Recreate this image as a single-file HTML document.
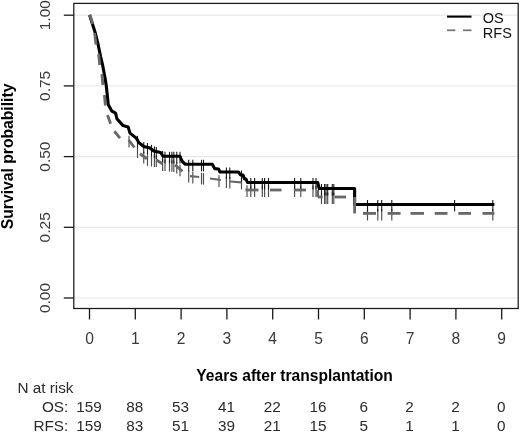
<!DOCTYPE html>
<html><head><meta charset="utf-8"><title>Survival</title>
<style>html,body{margin:0;padding:0;background:#fff;overflow:hidden}body{width:520px;height:432px;position:relative}svg text{font-family:"Liberation Sans",sans-serif}</style></head>
<body>
<svg width="520" height="432" viewBox="0 0 520 432" style="position:absolute;left:0;top:0;display:block;will-change:transform">
<rect width="520" height="432" fill="#fff"/>
<line x1="73.8" x2="518.2" y1="15.2" y2="15.2" stroke="#e5e5e5" stroke-width="1"/>
<line x1="73.8" x2="518.2" y1="85.9" y2="85.9" stroke="#e5e5e5" stroke-width="1"/>
<line x1="73.8" x2="518.2" y1="156.6" y2="156.6" stroke="#e5e5e5" stroke-width="1"/>
<line x1="73.8" x2="518.2" y1="227.3" y2="227.3" stroke="#e5e5e5" stroke-width="1"/>
<line x1="73.8" x2="518.2" y1="298.0" y2="298.0" stroke="#e5e5e5" stroke-width="1"/>
<line x1="137.5" x2="137.5" y1="146.5" y2="158.1" stroke="#4c4c4c" stroke-width="1.15"/>
<line x1="143.75" x2="143.75" y1="152.0" y2="163.6" stroke="#4c4c4c" stroke-width="1.15"/>
<line x1="147.5" x2="147.5" y1="154.3" y2="165.9" stroke="#4c4c4c" stroke-width="1.15"/>
<line x1="151.5" x2="151.5" y1="154.9" y2="166.5" stroke="#4c4c4c" stroke-width="1.15"/>
<line x1="154.4" x2="154.4" y1="155.3" y2="166.9" stroke="#4c4c4c" stroke-width="1.15"/>
<line x1="156.3" x2="156.3" y1="155.5" y2="167.1" stroke="#4c4c4c" stroke-width="1.15"/>
<line x1="162.6" x2="162.6" y1="159.3" y2="170.9" stroke="#4c4c4c" stroke-width="1.15"/>
<line x1="165" x2="165" y1="159.5" y2="171.1" stroke="#4c4c4c" stroke-width="1.15"/>
<line x1="169.5" x2="169.5" y1="159.9" y2="171.6" stroke="#4c4c4c" stroke-width="1.15"/>
<line x1="171.9" x2="171.9" y1="160.2" y2="171.8" stroke="#4c4c4c" stroke-width="1.15"/>
<line x1="173.8" x2="173.8" y1="160.4" y2="172.0" stroke="#4c4c4c" stroke-width="1.15"/>
<line x1="176.75" x2="176.75" y1="162.0" y2="173.6" stroke="#4c4c4c" stroke-width="1.15"/>
<line x1="180" x2="180" y1="164.7" y2="176.3" stroke="#4c4c4c" stroke-width="1.15"/>
<line x1="188.7" x2="188.7" y1="170.8" y2="182.4" stroke="#4c4c4c" stroke-width="1.15"/>
<line x1="192.8" x2="192.8" y1="171.9" y2="183.5" stroke="#4c4c4c" stroke-width="1.15"/>
<line x1="201.5" x2="201.5" y1="172.8" y2="184.4" stroke="#4c4c4c" stroke-width="1.15"/>
<line x1="203.5" x2="203.5" y1="173.1" y2="184.7" stroke="#4c4c4c" stroke-width="1.15"/>
<line x1="226.4" x2="226.4" y1="176.4" y2="188.0" stroke="#4c4c4c" stroke-width="1.15"/>
<line x1="229.8" x2="229.8" y1="177.0" y2="188.6" stroke="#4c4c4c" stroke-width="1.15"/>
<line x1="241.5" x2="241.5" y1="177.8" y2="189.4" stroke="#4c4c4c" stroke-width="1.15"/>
<line x1="250.8" x2="250.8" y1="185.3" y2="196.9" stroke="#4c4c4c" stroke-width="1.15"/>
<line x1="254.6" x2="254.6" y1="185.3" y2="196.9" stroke="#4c4c4c" stroke-width="1.15"/>
<line x1="262.3" x2="262.3" y1="185.3" y2="196.9" stroke="#4c4c4c" stroke-width="1.15"/>
<line x1="264.6" x2="264.6" y1="185.4" y2="197.0" stroke="#4c4c4c" stroke-width="1.15"/>
<line x1="268.5" x2="268.5" y1="185.4" y2="197.0" stroke="#4c4c4c" stroke-width="1.15"/>
<line x1="294.6" x2="294.6" y1="185.4" y2="197.0" stroke="#4c4c4c" stroke-width="1.15"/>
<line x1="300.8" x2="300.8" y1="185.5" y2="197.1" stroke="#4c4c4c" stroke-width="1.15"/>
<line x1="313" x2="313" y1="185.5" y2="197.1" stroke="#4c4c4c" stroke-width="1.15"/>
<line x1="316" x2="316" y1="185.5" y2="197.1" stroke="#4c4c4c" stroke-width="1.15"/>
<line x1="321.5" x2="321.5" y1="192.5" y2="204.1" stroke="#4c4c4c" stroke-width="1.15"/>
<line x1="324.6" x2="324.6" y1="192.5" y2="204.1" stroke="#4c4c4c" stroke-width="1.15"/>
<line x1="326" x2="326" y1="192.5" y2="204.1" stroke="#4c4c4c" stroke-width="1.15"/>
<line x1="327.7" x2="327.7" y1="192.5" y2="204.1" stroke="#4c4c4c" stroke-width="1.15"/>
<line x1="332.3" x2="332.3" y1="192.5" y2="204.1" stroke="#4c4c4c" stroke-width="1.15"/>
<line x1="333.8" x2="333.8" y1="192.5" y2="204.1" stroke="#4c4c4c" stroke-width="1.15"/>
<line x1="367.5" x2="367.5" y1="208.9" y2="220.5" stroke="#4c4c4c" stroke-width="1.15"/>
<line x1="377.8" x2="377.8" y1="208.9" y2="220.5" stroke="#4c4c4c" stroke-width="1.15"/>
<line x1="381.7" x2="381.7" y1="208.9" y2="220.5" stroke="#4c4c4c" stroke-width="1.15"/>
<line x1="391.8" x2="391.8" y1="208.9" y2="220.5" stroke="#4c4c4c" stroke-width="1.15"/>
<line x1="492.8" x2="492.8" y1="208.9" y2="220.5" stroke="#4c4c4c" stroke-width="1.15"/>
<line x1="129" x2="129" y1="135.8" y2="147.4" stroke="#4c4c4c" stroke-width="1.15"/>
<line x1="219" x2="219" y1="175.2" y2="186.9" stroke="#4c4c4c" stroke-width="1.15"/>
<line x1="247" x2="247" y1="185.3" y2="196.9" stroke="#4c4c4c" stroke-width="1.15"/>
<line x1="137.5" x2="137.5" y1="135.8" y2="147.4" stroke="#1a1a1a" stroke-width="1.1"/>
<line x1="143.75" x2="143.75" y1="142.0" y2="153.6" stroke="#1a1a1a" stroke-width="1.1"/>
<line x1="147.5" x2="147.5" y1="143.0" y2="154.6" stroke="#1a1a1a" stroke-width="1.1"/>
<line x1="151.5" x2="151.5" y1="144.8" y2="156.4" stroke="#1a1a1a" stroke-width="1.1"/>
<line x1="154.4" x2="154.4" y1="146.6" y2="158.2" stroke="#1a1a1a" stroke-width="1.1"/>
<line x1="156.3" x2="156.3" y1="147.1" y2="158.7" stroke="#1a1a1a" stroke-width="1.1"/>
<line x1="162.6" x2="162.6" y1="151.0" y2="162.6" stroke="#1a1a1a" stroke-width="1.1"/>
<line x1="165" x2="165" y1="151.8" y2="163.4" stroke="#1a1a1a" stroke-width="1.1"/>
<line x1="169.5" x2="169.5" y1="151.8" y2="163.4" stroke="#1a1a1a" stroke-width="1.1"/>
<line x1="171.9" x2="171.9" y1="151.8" y2="163.4" stroke="#1a1a1a" stroke-width="1.1"/>
<line x1="173.8" x2="173.8" y1="151.8" y2="163.4" stroke="#1a1a1a" stroke-width="1.1"/>
<line x1="176.75" x2="176.75" y1="151.8" y2="163.4" stroke="#1a1a1a" stroke-width="1.1"/>
<line x1="180" x2="180" y1="151.8" y2="163.4" stroke="#1a1a1a" stroke-width="1.1"/>
<line x1="188.7" x2="188.7" y1="159.8" y2="171.4" stroke="#1a1a1a" stroke-width="1.1"/>
<line x1="192.8" x2="192.8" y1="159.8" y2="171.4" stroke="#1a1a1a" stroke-width="1.1"/>
<line x1="201.5" x2="201.5" y1="159.8" y2="171.4" stroke="#1a1a1a" stroke-width="1.1"/>
<line x1="203.5" x2="203.5" y1="159.8" y2="171.4" stroke="#1a1a1a" stroke-width="1.1"/>
<line x1="226.4" x2="226.4" y1="167.5" y2="179.1" stroke="#1a1a1a" stroke-width="1.1"/>
<line x1="229.8" x2="229.8" y1="167.5" y2="179.1" stroke="#1a1a1a" stroke-width="1.1"/>
<line x1="241.5" x2="241.5" y1="170.5" y2="182.1" stroke="#1a1a1a" stroke-width="1.1"/>
<line x1="250.8" x2="250.8" y1="178.0" y2="189.6" stroke="#1a1a1a" stroke-width="1.1"/>
<line x1="254.6" x2="254.6" y1="178.0" y2="189.6" stroke="#1a1a1a" stroke-width="1.1"/>
<line x1="262.3" x2="262.3" y1="178.0" y2="189.6" stroke="#1a1a1a" stroke-width="1.1"/>
<line x1="264.6" x2="264.6" y1="178.0" y2="189.6" stroke="#1a1a1a" stroke-width="1.1"/>
<line x1="268.5" x2="268.5" y1="178.0" y2="189.6" stroke="#1a1a1a" stroke-width="1.1"/>
<line x1="294.6" x2="294.6" y1="178.0" y2="189.6" stroke="#1a1a1a" stroke-width="1.1"/>
<line x1="300.8" x2="300.8" y1="178.0" y2="189.6" stroke="#1a1a1a" stroke-width="1.1"/>
<line x1="313" x2="313" y1="178.0" y2="189.6" stroke="#1a1a1a" stroke-width="1.1"/>
<line x1="316" x2="316" y1="178.0" y2="189.6" stroke="#1a1a1a" stroke-width="1.1"/>
<line x1="321.5" x2="321.5" y1="184.0" y2="195.6" stroke="#1a1a1a" stroke-width="1.1"/>
<line x1="324.6" x2="324.6" y1="184.0" y2="195.6" stroke="#1a1a1a" stroke-width="1.1"/>
<line x1="326" x2="326" y1="184.0" y2="195.6" stroke="#1a1a1a" stroke-width="1.1"/>
<line x1="327.7" x2="327.7" y1="184.0" y2="195.6" stroke="#1a1a1a" stroke-width="1.1"/>
<line x1="332.3" x2="332.3" y1="184.0" y2="195.6" stroke="#1a1a1a" stroke-width="1.1"/>
<line x1="333.8" x2="333.8" y1="184.0" y2="195.6" stroke="#1a1a1a" stroke-width="1.1"/>
<line x1="367.5" x2="367.5" y1="200.0" y2="211.6" stroke="#1a1a1a" stroke-width="1.1"/>
<line x1="377.8" x2="377.8" y1="200.0" y2="211.6" stroke="#1a1a1a" stroke-width="1.1"/>
<line x1="381.7" x2="381.7" y1="200.0" y2="211.6" stroke="#1a1a1a" stroke-width="1.1"/>
<line x1="391.8" x2="391.8" y1="200.0" y2="211.6" stroke="#1a1a1a" stroke-width="1.1"/>
<line x1="492.8" x2="492.8" y1="200.0" y2="211.6" stroke="#1a1a1a" stroke-width="1.1"/>
<line x1="454.6" x2="454.6" y1="200.0" y2="211.6" stroke="#1a1a1a" stroke-width="1.1"/>
<polyline fill="none" stroke="#000" stroke-width="3.1" stroke-linejoin="round" points="89.6,15 95,32 98,44 100.7,57 102.6,65 105.3,79.4 106.3,86 107.4,96 108.2,104.5 111.9,111.2 115.6,113.1 116.9,118.75 123.1,125.6 128.1,126.9 130,133.1 136.25,138.1 138.75,142.5 143.75,146.5 150,148.1 153.75,151 160.6,152.5 163.1,156.25 180,156.25 182.3,161.5 185.4,164.3 212.3,164.3 214.6,168.6 218.5,169 220,172 238.5,172 240.5,175 243,175 244.5,179 246,179 247.5,182.5 317.7,182.5 319.2,188.5 354.6,188.5 354.6,204.5 494.4,204.5"/>
<line x1="89.8" y1="14.5" x2="92.6" y2="24" stroke="#686868" stroke-width="2.8"/>
<line x1="94.6" y1="33" x2="96" y2="44.5" stroke="#686868" stroke-width="2.8"/>
<line x1="98.6" y1="54" x2="99.8" y2="65" stroke="#686868" stroke-width="2.8"/>
<line x1="101.9" y1="74" x2="102.9" y2="85" stroke="#686868" stroke-width="2.8"/>
<line x1="104.4" y1="95" x2="105.4" y2="105.5" stroke="#686868" stroke-width="2.8"/>
<line x1="107.5" y1="115" x2="110.6" y2="123.75" stroke="#686868" stroke-width="2.8"/>
<line x1="114.4" y1="131.25" x2="120" y2="138.1" stroke="#686868" stroke-width="2.8"/>
<line x1="128.75" y1="140" x2="134.4" y2="147.5" stroke="#686868" stroke-width="2.8"/>
<line x1="140" y1="153.75" x2="146.9" y2="158.75" stroke="#686868" stroke-width="2.8"/>
<line x1="156.25" y1="160" x2="162.5" y2="163.75" stroke="#686868" stroke-width="2.8"/>
<line x1="175" y1="165" x2="182.5" y2="171.25" stroke="#686868" stroke-width="2.8"/>
<line x1="190" y1="176.2" x2="199.2" y2="177" stroke="#686868" stroke-width="2.2"/>
<line x1="210" y1="178.5" x2="220.8" y2="180" stroke="#686868" stroke-width="2.2"/>
<line x1="230" y1="181.5" x2="241.5" y2="182.3" stroke="#686868" stroke-width="2.2"/>
<line x1="245.4" y1="190" x2="258.5" y2="190" stroke="#686868" stroke-width="2.8"/>
<line x1="270" y1="190" x2="281.5" y2="190" stroke="#686868" stroke-width="2.8"/>
<line x1="293.8" y1="190" x2="306" y2="190" stroke="#686868" stroke-width="2.8"/>
<line x1="317.7" y1="190" x2="317.7" y2="197" stroke="#686868" stroke-width="2.8"/>
<line x1="317.7" y1="197" x2="322.6" y2="197" stroke="#686868" stroke-width="2.8"/>
<line x1="334.6" y1="197" x2="346" y2="197" stroke="#686868" stroke-width="2.8"/>
<line x1="354.6" y1="197" x2="354.6" y2="213.4" stroke="#686868" stroke-width="2.8"/>
<line x1="363" y1="213.4" x2="376" y2="213.4" stroke="#686868" stroke-width="2.8"/>
<line x1="387.6" y1="213.4" x2="400.6" y2="213.4" stroke="#686868" stroke-width="2.8"/>
<line x1="410.5" y1="213.4" x2="424" y2="213.4" stroke="#686868" stroke-width="2.8"/>
<line x1="434.7" y1="213.4" x2="447.5" y2="213.4" stroke="#686868" stroke-width="2.8"/>
<line x1="458.3" y1="213.4" x2="471" y2="213.4" stroke="#686868" stroke-width="2.8"/>
<line x1="482.5" y1="213.4" x2="494.4" y2="213.4" stroke="#686868" stroke-width="2.8"/>
<rect x="73.8" y="3.4" width="444.40000000000003" height="305.1" fill="none" stroke="#1a1a1a" stroke-width="1.25"/>
<line x1="63.8" x2="73.8" y1="15.2" y2="15.2" stroke="#1a1a1a" stroke-width="1.3"/>
<text transform="translate(50.4,15.2) rotate(-90)" text-anchor="middle" font-size="15.5" fill="#3a3a3a">1.00</text>
<line x1="63.8" x2="73.8" y1="85.9" y2="85.9" stroke="#1a1a1a" stroke-width="1.3"/>
<text transform="translate(50.4,85.9) rotate(-90)" text-anchor="middle" font-size="15.5" fill="#3a3a3a">0.75</text>
<line x1="63.8" x2="73.8" y1="156.6" y2="156.6" stroke="#1a1a1a" stroke-width="1.3"/>
<text transform="translate(50.4,156.6) rotate(-90)" text-anchor="middle" font-size="15.5" fill="#3a3a3a">0.50</text>
<line x1="63.8" x2="73.8" y1="227.3" y2="227.3" stroke="#1a1a1a" stroke-width="1.3"/>
<text transform="translate(50.4,227.3) rotate(-90)" text-anchor="middle" font-size="15.5" fill="#3a3a3a">0.25</text>
<line x1="63.8" x2="73.8" y1="298.0" y2="298.0" stroke="#1a1a1a" stroke-width="1.3"/>
<text transform="translate(50.4,298.0) rotate(-90)" text-anchor="middle" font-size="15.5" fill="#3a3a3a">0.00</text>
<line x1="89.5" x2="89.5" y1="308.5" y2="319.5" stroke="#1a1a1a" stroke-width="1.3"/>
<text x="89.5" y="343.7" text-anchor="middle" font-size="15.6" fill="#3a3a3a">0</text>
<line x1="135.3" x2="135.3" y1="308.5" y2="319.5" stroke="#1a1a1a" stroke-width="1.3"/>
<text x="135.3" y="343.7" text-anchor="middle" font-size="15.6" fill="#3a3a3a">1</text>
<line x1="181.1" x2="181.1" y1="308.5" y2="319.5" stroke="#1a1a1a" stroke-width="1.3"/>
<text x="181.1" y="343.7" text-anchor="middle" font-size="15.6" fill="#3a3a3a">2</text>
<line x1="226.89999999999998" x2="226.89999999999998" y1="308.5" y2="319.5" stroke="#1a1a1a" stroke-width="1.3"/>
<text x="226.89999999999998" y="343.7" text-anchor="middle" font-size="15.6" fill="#3a3a3a">3</text>
<line x1="272.7" x2="272.7" y1="308.5" y2="319.5" stroke="#1a1a1a" stroke-width="1.3"/>
<text x="272.7" y="343.7" text-anchor="middle" font-size="15.6" fill="#3a3a3a">4</text>
<line x1="318.5" x2="318.5" y1="308.5" y2="319.5" stroke="#1a1a1a" stroke-width="1.3"/>
<text x="318.5" y="343.7" text-anchor="middle" font-size="15.6" fill="#3a3a3a">5</text>
<line x1="364.29999999999995" x2="364.29999999999995" y1="308.5" y2="319.5" stroke="#1a1a1a" stroke-width="1.3"/>
<text x="364.29999999999995" y="343.7" text-anchor="middle" font-size="15.6" fill="#3a3a3a">6</text>
<line x1="410.09999999999997" x2="410.09999999999997" y1="308.5" y2="319.5" stroke="#1a1a1a" stroke-width="1.3"/>
<text x="410.09999999999997" y="343.7" text-anchor="middle" font-size="15.6" fill="#3a3a3a">7</text>
<line x1="455.9" x2="455.9" y1="308.5" y2="319.5" stroke="#1a1a1a" stroke-width="1.3"/>
<text x="455.9" y="343.7" text-anchor="middle" font-size="15.6" fill="#3a3a3a">8</text>
<line x1="501.7" x2="501.7" y1="308.5" y2="319.5" stroke="#1a1a1a" stroke-width="1.3"/>
<text x="501.7" y="343.7" text-anchor="middle" font-size="15.6" fill="#3a3a3a">9</text>
<text transform="translate(12.8,156.4) rotate(-90)" text-anchor="middle" font-size="16.2" font-weight="bold" textLength="145.6" lengthAdjust="spacingAndGlyphs" fill="#000">Survival probability</text>
<text x="294.6" y="380.9" text-anchor="middle" font-size="16.2" font-weight="bold" textLength="196.6" lengthAdjust="spacingAndGlyphs" fill="#000">Years after transplantation</text>
<line x1="447" x2="471.5" y1="16.6" y2="16.6" stroke="#000" stroke-width="2.1"/>
<line x1="447" x2="455.4" y1="30.3" y2="30.3" stroke="#747474" stroke-width="1.7"/>
<line x1="463" x2="471.5" y1="30.3" y2="30.3" stroke="#747474" stroke-width="1.7"/>
<text x="482.8" y="23.1" font-size="14.5" fill="#111">OS</text>
<text x="482.8" y="37.7" font-size="14.5" fill="#111">RFS</text>
<text x="17.4" y="393.2" font-size="15.3" fill="#2a2a2a">N at risk</text>
<text x="68.3" y="412.3" text-anchor="end" font-size="15.3" fill="#2a2a2a">OS:</text>
<text x="89.0" y="412.3" text-anchor="middle" font-size="15.3" fill="#2a2a2a">159</text>
<text x="134.8" y="412.3" text-anchor="middle" font-size="15.3" fill="#2a2a2a">88</text>
<text x="180.6" y="412.3" text-anchor="middle" font-size="15.3" fill="#2a2a2a">53</text>
<text x="226.39999999999998" y="412.3" text-anchor="middle" font-size="15.3" fill="#2a2a2a">41</text>
<text x="272.2" y="412.3" text-anchor="middle" font-size="15.3" fill="#2a2a2a">22</text>
<text x="318.0" y="412.3" text-anchor="middle" font-size="15.3" fill="#2a2a2a">16</text>
<text x="363.79999999999995" y="412.3" text-anchor="middle" font-size="15.3" fill="#2a2a2a">6</text>
<text x="409.59999999999997" y="412.3" text-anchor="middle" font-size="15.3" fill="#2a2a2a">2</text>
<text x="455.4" y="412.3" text-anchor="middle" font-size="15.3" fill="#2a2a2a">2</text>
<text x="501.2" y="412.3" text-anchor="middle" font-size="15.3" fill="#2a2a2a">0</text>
<text x="68.3" y="430.6" text-anchor="end" font-size="15.3" fill="#2a2a2a">RFS:</text>
<text x="89.0" y="430.6" text-anchor="middle" font-size="15.3" fill="#2a2a2a">159</text>
<text x="134.8" y="430.6" text-anchor="middle" font-size="15.3" fill="#2a2a2a">83</text>
<text x="180.6" y="430.6" text-anchor="middle" font-size="15.3" fill="#2a2a2a">51</text>
<text x="226.39999999999998" y="430.6" text-anchor="middle" font-size="15.3" fill="#2a2a2a">39</text>
<text x="272.2" y="430.6" text-anchor="middle" font-size="15.3" fill="#2a2a2a">21</text>
<text x="318.0" y="430.6" text-anchor="middle" font-size="15.3" fill="#2a2a2a">15</text>
<text x="363.79999999999995" y="430.6" text-anchor="middle" font-size="15.3" fill="#2a2a2a">5</text>
<text x="409.59999999999997" y="430.6" text-anchor="middle" font-size="15.3" fill="#2a2a2a">1</text>
<text x="455.4" y="430.6" text-anchor="middle" font-size="15.3" fill="#2a2a2a">1</text>
<text x="501.2" y="430.6" text-anchor="middle" font-size="15.3" fill="#2a2a2a">0</text>
</svg>
</body></html>
